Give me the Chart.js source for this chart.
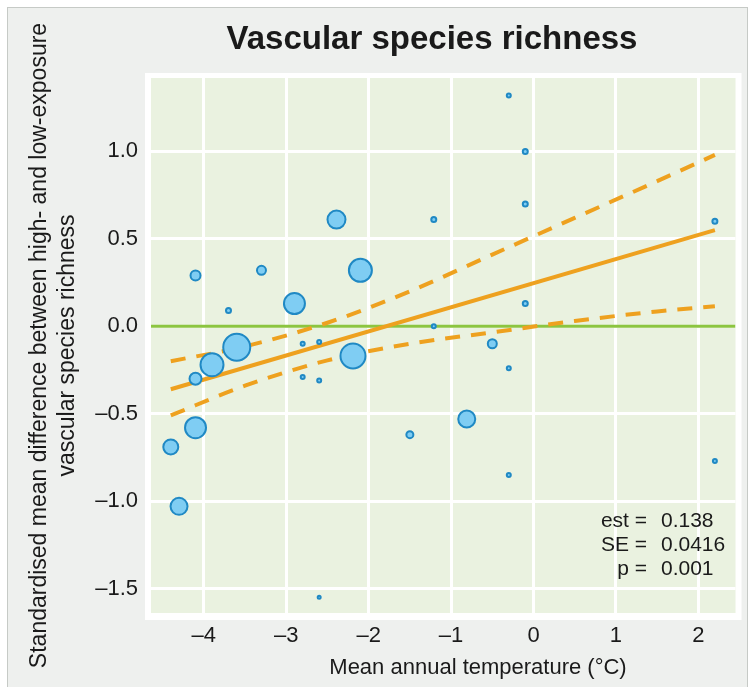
<!DOCTYPE html>
<html>
<head>
<meta charset="utf-8">
<script src="https://cdn.jsdelivr.net/npm/chart.js@4.4.1/dist/chart.umd.min.js"></script>
<style>
  html, body { margin: 0; padding: 0; background: #fff; }
  canvas { display: block; }
</style>
</head>
<body>
<canvas id="chart" width="751" height="687"></canvas>
<script>
// study-level effects
const studyTemp = [-4.10, -3.30, -3.70, -2.90, -2.39, -2.10, -1.21, -1.21, -3.60, -3.90, -4.10, -2.80, -2.60, -2.80, -2.60, -2.19, -4.10, -4.40, -4.30, -1.50, -2.60, -0.30, -0.10, -0.10, 2.20, -0.10, -0.50, -0.30, -0.81, -0.30, 2.20]
const studySmd = [0.29, 0.32, 0.09, 0.13, 0.61, 0.32, 0.61, 0.00, -0.12, -0.22, -0.30, -0.10, -0.09, -0.29, -0.31, -0.17, -0.58, -0.69, -1.03, -0.62, -1.55, 1.32, 1.00, 0.70, 0.60, 0.13, -0.10, -0.24, -0.53, -0.85, -0.77]
const studyWeight = [5, 4.5, 2.5, 10.5, 9, 11.5, 2.5, 2, 13.5, 11.5, 6, 2, 2, 2, 2, 12.5, 10.5, 7.5, 8.5, 3.5, 1.5, 2, 2.5, 2.5, 2.5, 2.5, 4.5, 2, 8.5, 2, 2]

// meta-regression fit and confidence band
const fitX = [-4.4, 2.2]
const fitY = [-0.36, 0.55]
const bandX = [-4.4, -3.5, -2.5, -1.5, -0.5, 0.5, 1.5, 2.2]
const bandUpper = [-0.20, -0.115, 0.02, 0.20, 0.41, 0.62, 0.83, 0.98]
const bandLower = [-0.51, -0.34, -0.195, -0.10, -0.035, 0.03, 0.085, 0.115]

const xTicks = [-4, -3, -2, -1, 0, 1, 2]
const yTicks = [-1.5, -1.0, -0.5, 0.0, 0.5, 1.0]
const xRange = [-4.64, 2.45]
const yRange = [-1.64, 1.42]

const stats = [['est =', '0.138'], ['SE =', '0.0416'], ['p =', '0.001']]

const FONT = "'Liberation Sans', Arial, Helvetica, sans-serif"
const ORANGE = '#eea11f'
const dash = s => String(s).replace('-', '\u2013')
const pts = (xs, ys) => xs.map((x, i) => ({ x: x, y: ys[i] }))

const panelPlugin = {
  id: 'panel',
  beforeDraw(chart) {
    const { ctx, chartArea: a } = chart
    ctx.save()
    ctx.fillStyle = '#ffffff'
    ctx.fillRect(0, 0, chart.width, chart.height)
    ctx.fillStyle = '#eef0ee'
    ctx.fillRect(7, 7, chart.width - 10, chart.height)
    ctx.strokeStyle = '#c6cac6'
    ctx.lineWidth = 1
    ctx.strokeRect(7.5, 7.5, chart.width - 11, chart.height + 5)
    ctx.fillStyle = '#ffffff'
    ctx.fillRect(a.left - 6, a.top - 5, a.width + 12, a.height + 12)
    ctx.fillStyle = '#eaf2e0'
    ctx.fillRect(a.left, a.top, a.width, a.height)
    ctx.restore()
  },
  afterDraw(chart) {
    const { ctx } = chart
    ctx.save()
    ctx.fillStyle = '#1a1a1a'
    ctx.textBaseline = 'alphabetic'
    ctx.textAlign = 'center'
    ctx.font = 'bold 33px ' + FONT
    ctx.fillText('Vascular species richness', 432, 49)
    ctx.font = '22px ' + FONT
    ctx.fillText('Mean annual temperature (\u00b0C)', 478, 674)
    ctx.font = '21px ' + FONT
    stats.forEach((s, i) => {
      const y = 527 + i * 24
      ctx.textAlign = 'right'
      ctx.fillText(s[0], 647, y)
      ctx.textAlign = 'left'
      ctx.fillText(s[1], 661, y)
    })
    ctx.restore()
  }
}

new Chart(document.getElementById('chart'), {
  type: 'bubble',
  data: {
    datasets: [
      {
        type: 'bubble',
        data: studyTemp.map((x, i) => ({ x: x, y: studySmd[i], r: studyWeight[i] })),
        backgroundColor: '#7fcdf3',
        borderColor: '#2089c4',
        borderWidth: 2,
        order: 0
      },
      {
        type: 'line',
        data: pts(fitX, fitY),
        borderColor: ORANGE,
        borderWidth: 4,
        pointRadius: 0,
        fill: false,
        order: 1
      },
      {
        type: 'line',
        data: pts(bandX, bandUpper),
        borderColor: ORANGE,
        borderWidth: 4,
        borderDash: [15, 11],
        pointRadius: 0,
        cubicInterpolationMode: 'monotone',
        fill: false,
        order: 1
      },
      {
        type: 'line',
        data: pts(bandX, bandLower),
        borderColor: ORANGE,
        borderWidth: 4,
        borderDash: [15, 11],
        pointRadius: 0,
        cubicInterpolationMode: 'monotone',
        fill: false,
        order: 1
      },
      {
        type: 'line',
        data: pts(xRange, [0, 0]),
        borderColor: '#8cc540',
        borderWidth: 3,
        pointRadius: 0,
        fill: false,
        order: 2
      }
    ]
  },
  options: {
    responsive: false,
    animation: false,
    layout: { padding: { top: 78, right: 11, left: 0, bottom: 0 } },
    plugins: {
      legend: { display: false },
      tooltip: { enabled: false }
    },
    scales: {
      x: {
        type: 'linear',
        min: xRange[0],
        max: xRange[1],
        afterBuildTicks: s => { s.ticks = xTicks.map(v => ({ value: v })) },
        afterFit: s => { s.height = 74 },
        border: { display: false },
        grid: { color: '#ffffff', lineWidth: 3, drawTicks: false },
        ticks: {
          padding: 10,
          color: '#1a1a1a',
          font: { family: FONT, size: 22 },
          callback: v => dash(v)
        }
      },
      y: {
        min: yRange[0],
        max: yRange[1],
        afterBuildTicks: s => { s.ticks = yTicks.map(v => ({ value: v })) },
        afterFit: s => { s.width = 151 },
        border: { display: false },
        grid: { color: '#ffffff', lineWidth: 3, drawTicks: false },
        ticks: {
          padding: 13,
          color: '#1a1a1a',
          font: { family: FONT, size: 22 },
          callback: v => dash(v.toFixed(1))
        },
        title: {
          display: true,
          text: ['Standardised mean difference between high- and low-exposure', 'vascular species richness'],
          color: '#1a1a1a',
          font: { family: FONT, size: 23, lineHeight: 1.2 },
          padding: { top: 26, bottom: 0 }
        }
      }
    }
  },
  plugins: [panelPlugin]
})
</script>
</body>
</html>
